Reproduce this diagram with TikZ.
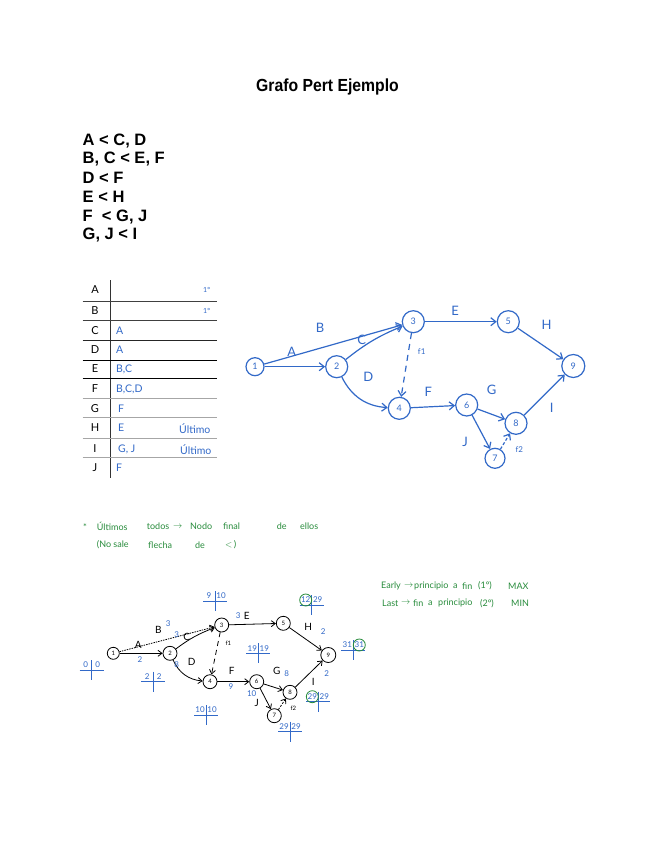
\documentclass[tikz,border=0pt]{standalone}
\usepackage{fontspec}
\setmainfont{Liberation Sans}
\newfontfamily\titlefont{Liberation Sans}[FakeStretch=0.9]
\newfontfamily\handfont{Lato}
\usetikzlibrary{arrows.meta}
\definecolor{penblue}{RGB}{50,105,200}
\definecolor{pengreen}{RGB}{40,140,60}
\tikzset{
  bnode/.style={circle, draw=penblue, line width=1.2pt, minimum size=22pt, inner sep=0pt, text=penblue, font=\handfont\fontsize{9}{9}\selectfont},
  blab/.style={text=penblue, font=\handfont\fontsize{13}{13}\selectfont},
  bsmall/.style={text=penblue, font=\handfont\fontsize{8}{8}\selectfont},
  bedge/.style={draw=penblue, line width=1.2pt, -{Straight Barb[length=5pt,width=8pt]}},
  knode/.style={circle, draw, line width=0.8pt, minimum size=14pt, inner sep=0pt, font=\handfont\fontsize{6}{6}\selectfont},
  klab/.style={font=\handfont\fontsize{10}{10}\selectfont},
  ksmall/.style={font=\handfont\fontsize{6}{6}\selectfont},
  kedge/.style={line width=0.8pt, -{Straight Barb[length=4pt,width=6pt]}},
  dur/.style={text=penblue, font=\handfont\fontsize{8}{8}\selectfont, inner sep=1pt},
  note/.style={text=pengreen, font=\handfont\fontsize{9}{9}\selectfont, anchor=west, inner sep=0pt},
  prec/.style={font=\bfseries\fontsize{16.5}{16.5}\selectfont, anchor=west, inner sep=0pt},
  rowlab/.style={font=\handfont\fontsize{11}{11}\selectfont},
  rowval/.style={text=penblue, font=\handfont\fontsize{10.5}{10.5}\selectfont, anchor=west, inner sep=0pt},
  greenring/.style={draw=pengreen, line width=0.8pt},
  pics/pertcross/.style 2 args={code={
    \draw[penblue, line width=0.8pt] (-12,0) -- (12,0) (0,-10) -- (0,10);
    \node[dur] (-l) at (-6,-5) {#1};
    \node[dur] (-r) at (6,-5) {#2};
  }}
}
\begin{document}
\begin{tikzpicture}[x=1pt,y=-1pt]
\useasboundingbox[fill=white] (0,0) rectangle (655,848);

% title
\node[font=\titlefont\bfseries\fontsize{17.5}{17.5}\selectfont] (title) at (327.5,87) {Grafo Pert Ejemplo};

% precedences
\node[prec] (p1) at (82.5,140.7) {A < C, D};
\node[prec] (p2) at (82.5,159.3) {B, C < E, F};
\node[prec] (p3) at (82.5,178.3) {D < F};
\node[prec] (p4) at (82.5,197.3) {E < H};
\node[prec] (p5) at (82.5,216.7) {F \ < G, J};
\node[prec] (p6) at (82.5,235.5) {G, J < I};

% table
\draw[black!80, line width=0.9pt] (110,280) -- (110,478);
\draw[black!75, line width=0.8pt] (82.7,301.7) -- (216.7,301.7);
\draw[black!75, line width=0.8pt] (82.7,320.7) -- (216.7,320.7);
\draw[black!85, line width=1.5pt] (82.7,340.7) -- (216.7,340.7);
\draw[black, line width=1pt] (82.7,360) -- (216.7,360);
\draw[black, line width=1pt] (82.7,378.3) -- (216.7,378.3);
\draw[black!35, line width=0.7pt] (82.7,398.3) -- (216.7,398.3);
\draw[black!35, line width=0.7pt] (82.7,417.7) -- (216.7,417.7);
\draw[black!35, line width=0.7pt] (82.7,438.3) -- (216.7,438.3);
\draw[black!35, line width=0.7pt] (82.7,457.3) -- (216.7,457.3);
\node[rowlab] (rA) at (95,290) {A};
\node[rowlab] (rB) at (95,311) {B};
\node[rowlab] (rC) at (95,330.5) {C};
\node[rowlab] (rD) at (95,350) {D};
\node[rowlab] (rE) at (95,369) {E};
\node[rowlab] (rF) at (95,389) {F};
\node[rowlab] (rG) at (95,409) {G};
\node[rowlab] (rH) at (95,428) {H};
\node[rowlab] (rI) at (95,449) {I};
\node[rowlab] (rJ) at (95,468) {J};
\node[rowval, font=\handfont\fontsize{7}{7}\selectfont] (vA) at (203,290) {1º};
\node[rowval, font=\handfont\fontsize{7}{7}\selectfont] (vB) at (203,311) {1º};
\node[rowval] (vC) at (116,330.5) {A};
\node[rowval] (vD) at (116,350) {A};
\node[rowval] (vE) at (116,369) {B,C};
\node[rowval] (vF) at (116,389) {B,C,D};
\node[rowval] (vG) at (118,409) {F};
\node[rowval] (vH) at (118,428) {E};
\node[rowval] (vI) at (118,449) {G, J};
\node[rowval] (vJ) at (116,468) {F};
\node[rowval] (uH) at (179,428.5) {Último};
\node[rowval] (uI) at (180,449.5) {Último};

% top graph
\node[bnode, minimum size=18pt] (t1) at (255,366.7) {1};
\node[bnode] (t2) at (336.7,366.7) {2};
\node[bnode] (t3) at (413.3,321.7) {3};
\node[bnode] (t4) at (399.3,408.3) {4};
\node[bnode] (t5) at (508.3,321.7) {5};
\node[bnode] (t6) at (466.7,405) {6};
\node[bnode, minimum size=20pt] (t7) at (495,458.3) {7};
\node[bnode] (t8) at (516,423.3) {8};
\node[bnode, minimum size=23pt] (t9) at (573.3,366) {9};
\draw[bedge] (t1) -- (t3);
\draw[bedge] (t1) -- (t2);
\draw[bedge] (t2) to[bend left=8] (t3);
\draw[bedge] (t2) to[bend right=30] (t4);
\draw[bedge, dash pattern=on 6pt off 5pt] (t3) -- (t4);
\draw[bedge] (t3) -- (t5);
\draw[bedge] (t5) -- (t9);
\draw[bedge] (t4) -- (t6);
\draw[bedge] (t6) -- (t8);
\draw[bedge] (t6) -- (t7);
\draw[bedge, dash pattern=on 3pt off 2pt] (t7) -- (t8);
\draw[bedge] (t8) -- (t9);
\node[blab] (lB) at (320,328) {B};
\node[blab] (lA) at (291.7,351.7) {A};
\node[blab] (lC) at (361.7,340) {C};
\node[blab] (lD) at (368.3,377) {D};
\node[blab] (lE) at (455,310.7) {E};
\node[blab] (lH) at (546.7,325) {H};
\node[blab] (lF) at (428.3,391.7) {F};
\node[blab] (lG) at (491.7,390) {G};
\node[blab] (lI) at (551.7,408.3) {I};
\node[blab] (lJ) at (465,441.7) {J};
\node[bsmall] (lf1) at (421.7,351.7) {f1};
\node[bsmall] (lf2) at (519.3,449.3) {f2};

% green notes
\node[note] (n1) at (83,526.7) {*};
\node[note] (n2) at (96.7,526.7) {Últimos};
\node[note] (n3) at (146.7,526.7) {todos};
\node[note] (n4) at (173,526.7) {$\rightarrow$};
\node[note] (n5) at (190,526.7) {Nodo};
\node[note] (n6) at (223,526.7) {final};
\node[note] (n7) at (276.7,526.7) {de};
\node[note] (n8) at (300,526.7) {ellos};
\node[note] (m1) at (96.7,545) {(No sale};
\node[note] (m2) at (148,545) {flecha};
\node[note] (m3) at (195,545) {de};
\node[note] (m4) at (225,545) {$<$\,)};

\node[note] (e1) at (381,586) {Early};
\node[note] (e2) at (404,586) {$\rightarrow$};
\node[note] (e3) at (414,586) {principio};
\node[note] (e4) at (453,586) {a};
\node[note] (e5) at (462,586) {fin};
\node[note] (e6) at (478,586) {(1º)};
\node[note] (e7) at (508,586) {MAX};
\node[note] (f1) at (382,603.3) {Last};
\node[note] (f2) at (401,603.3) {$\rightarrow$};
\node[note] (f3) at (413,603.3) {fin};
\node[note] (f4) at (428,603.3) {a};
\node[note] (f5) at (438,603.3) {principio};
\node[note] (f6) at (480,603.3) {(2º)};
\node[note] (f7) at (511,603.3) {MIN};

% bottom graph
\node[knode, minimum size=12pt] (k1) at (113.3,653.3) {1};
\node[knode] (k2) at (170,653.3) {2};
\node[knode] (k3) at (221.7,625) {3};
\node[knode] (k4) at (210,681.7) {4};
\node[knode] (k5) at (283.3,623.3) {5};
\node[knode] (k6) at (256.7,681.7) {6};
\node[knode] (k7) at (274.3,715.7) {7};
\node[knode] (k8) at (290,692.3) {8};
\node[knode, minimum size=15pt] (k9) at (328.3,655) {9};
\draw[kedge, dash pattern=on 1.5pt off 1pt] (k1) -- (k3);
\draw[kedge] (k1) -- (k2);
\draw[kedge] (k2) to[bend left=8] (k3);
\draw[kedge] (k2) to[bend right=30] (k4);
\draw[kedge, dash pattern=on 5pt off 4pt] (k3) -- (k4);
\draw[kedge] (k3) -- (k5);
\draw[kedge] (k5) -- (k9);
\draw[kedge] (k4) -- (k6);
\draw[kedge] (k6) -- (k8);
\draw[kedge] (k6) -- (k7);
\draw[kedge, dash pattern=on 2pt off 1.5pt] (k7) -- (k8);
\draw[kedge] (k8) -- (k9);
\node[klab] (bB) at (158.3,630) {B};
\node[klab] (bA) at (138.3,645) {A};
\node[klab] (bC) at (186.7,636.7) {C};
\node[klab] (bD) at (191.7,661.7) {D};
\node[klab] (bE) at (246.7,615.7) {E};
\node[klab] (bH) at (308.3,626.7) {H};
\node[klab] (bF) at (231.7,671) {F};
\node[klab] (bG) at (276.7,671) {G};
\node[klab] (bI) at (313.3,681.7) {I};
\node[klab] (bJ) at (256.7,703.3) {J};
\node[ksmall] (bf1) at (228.3,643.3) {f1};
\node[ksmall] (bf2) at (293.3,708.3) {f2};
\node[dur] (dB) at (168.3,623.3) {3};
\node[dur] (dA) at (140,660) {2};
\node[dur] (dC) at (176.7,634.3) {3};
\node[dur] (dD) at (176.7,665) {8};
\node[dur] (dE) at (238.3,615.7) {3};
\node[dur] (dH) at (323.3,631.7) {2};
\node[dur] (dF) at (231,686.7) {9};
\node[dur] (dG) at (286.7,673.3) {8};
\node[dur] (dI) at (326.7,673.3) {2};
\node[dur] (dJ) at (251.7,693.3) {10};

% crosses
\pic (c0) at (91.7,670) {pertcross={0}{0}};
\pic (c2) at (153.3,681.7) {pertcross={2}{2}};
\pic (c3) at (215,601) {pertcross={9}{10}};
\pic (c4) at (206,715) {pertcross={10}{10}};
\pic (c5) at (311.7,605) {pertcross={12}{29}};
\pic (c6) at (258.3,653.3) {pertcross={19}{19}};
\pic (c9) at (353.3,650) {pertcross={31}{31}};
\pic (c8) at (318.3,701.7) {pertcross={29}{29}};
\pic (c7) at (290,731.7) {pertcross={29}{29}};
\draw[greenring] (c5-l) circle (6pt);
\draw[greenring] (c9-r) circle (6pt);
\draw[greenring] (c8-l) circle (6pt);
\end{tikzpicture}
\end{document}
